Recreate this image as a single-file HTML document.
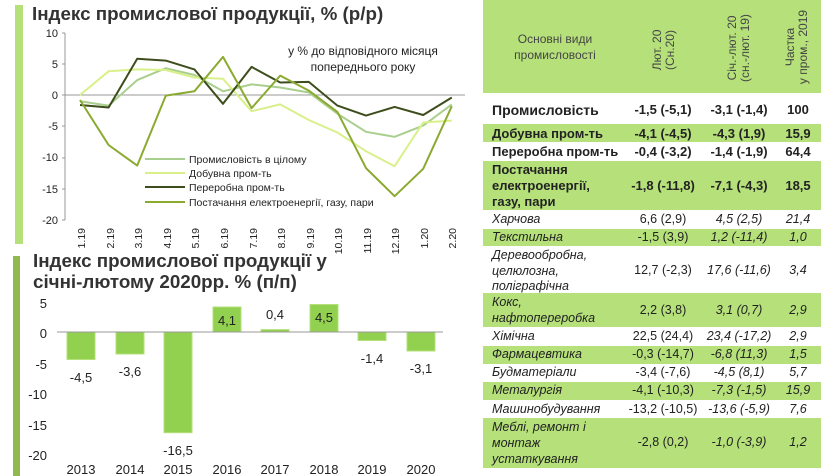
<!DOCTYPE html>
<html><head><meta charset="utf-8"><style>
body{margin:0;width:832px;height:476px;background:#fff;position:relative;overflow:hidden;font-family:"Liberation Sans",sans-serif;}
.t{position:absolute;color:#222;font-size:12.5px;}
.r{position:absolute;left:483px;width:338px;}
.g{background:#b5e07a;}
.c{position:absolute;text-align:center;font-size:12.5px;color:#222;}
.b{font-weight:bold;font-size:13px;}
.i{font-style:italic;}
</style></head><body>
<div style="position:absolute;left:15px;top:5px;width:8px;height:239px;background:#b5e07a"></div>
<div style="position:absolute;left:13px;top:256px;width:7px;height:220px;background:#92b850"></div>
<div style="position:absolute;left:32px;top:3px;font-weight:bold;font-size:18.8px;color:#333">Індекс промислової продукції, % (р/р)</div>
<div style="position:absolute;left:33px;top:250px;font-weight:bold;font-size:18.8px;line-height:21px;color:#333">Індекс промислової продукції у<br>січні-лютому 2020рр. % (п/п)</div>
<div class="r g" style="top:0;height:93px"></div>
<div class="t" style="left:490px;top:31px;width:130px;text-align:center;line-height:16px;color:#444;font-size:12px">Основні види<br>промисловості</div>
<div class="r g" style="top:124px;height:18px"></div>
<div class="r g" style="top:161px;height:49px"></div>
<div class="r g" style="top:229px;height:17px"></div>
<div class="r g" style="top:293px;height:34px"></div>
<div class="r g" style="top:346px;height:18px"></div>
<div class="r g" style="top:382px;height:18px"></div>
<div class="r g" style="top:418px;height:50px"></div>
<svg width="832" height="476" style="position:absolute;left:0;top:0" font-family="Liberation Sans, sans-serif">
<g font-size="11" fill="#222" text-anchor="end">
<text x="58" y="37">10</text><text x="58" y="68">5</text><text x="58" y="99">0</text><text x="58" y="130">-5</text><text x="58" y="161">-10</text><text x="58" y="193">-15</text><text x="58" y="224">-20</text>
</g>
<line x1="65" y1="33" x2="65" y2="220" stroke="#999"/>
<line x1="65" y1="95" x2="465" y2="95" stroke="#999"/>
<g stroke="#999"><line x1="62" y1="33" x2="65" y2="33"/><line x1="62" y1="64" x2="65" y2="64"/><line x1="62" y1="95" x2="65" y2="95"/><line x1="62" y1="126" x2="65" y2="126"/><line x1="62" y1="158" x2="65" y2="158"/><line x1="62" y1="189" x2="65" y2="189"/><line x1="62" y1="220" x2="65" y2="220"/></g>
<g font-size="10.5" fill="#222" text-anchor="end">
<text transform="translate(85,228) rotate(-90)">1.19</text><text transform="translate(114,228) rotate(-90)">2.19</text><text transform="translate(142,228) rotate(-90)">3.19</text><text transform="translate(171,228) rotate(-90)">4.19</text><text transform="translate(199,228) rotate(-90)">5.19</text><text transform="translate(228,228) rotate(-90)">6.19</text><text transform="translate(257,228) rotate(-90)">7.19</text><text transform="translate(285,228) rotate(-90)">8.19</text><text transform="translate(314,228) rotate(-90)">9.19</text><text transform="translate(342,228) rotate(-90)">10.19</text><text transform="translate(371,228) rotate(-90)">11.19</text><text transform="translate(399,228) rotate(-90)">12.19</text><text transform="translate(428,228) rotate(-90)">1.20</text><text transform="translate(456,228) rotate(-90)">2.20</text>
</g>
<g fill="none" stroke-width="2" stroke-linejoin="round">
<polyline stroke="#a9cf8e" points="80,101.2 108.6,105.6 137.2,80.1 165.8,68.2 194.4,75 223,91.3 251.6,84.4 280.2,87.5 308.8,92.5 337.4,113.7 366,131.8 394.6,136.8 423.2,125.6 451.8,104.4"/>
<polyline stroke="#d9f08a" points="80,95 108.6,71.3 137.2,69.4 165.8,70 194.4,77.5 223,78.8 251.6,111.2 280.2,104.4 308.8,120 337.4,132.5 366,151.2 394.6,166.2 423.2,122.5 451.8,120.6"/>
<polyline stroke="#3d4d1c" points="80,105 108.6,107.5 137.2,58.8 165.8,60.6 194.4,69.4 223,103.8 251.6,66.9 280.2,82.5 308.8,81.9 337.4,105.6 366,115.6 394.6,106.9 423.2,115 451.8,97.5"/>
<polyline stroke="#8aaa30" points="80,100 108.6,145 137.2,165.6 165.8,95.6 194.4,91.3 223,56.9 251.6,108.1 280.2,75.6 308.8,90.6 337.4,111.9 366,168.1 394.6,196.2 423.2,168.8 451.8,106.2"/>
</g>
<g stroke-width="2"><line x1="145" y1="159" x2="185" y2="159" stroke="#a9cf8e"/><line x1="145" y1="173" x2="185" y2="173" stroke="#d9f08a"/><line x1="145" y1="187" x2="185" y2="187" stroke="#3d4d1c"/><line x1="145" y1="202" x2="185" y2="202" stroke="#8aaa30"/></g>
<g font-size="10.5" fill="#222"><text x="189" y="163">Промисловість в цілому</text><text x="189" y="177">Добувна пром-ть</text><text x="189" y="191">Переробна пром-ть</text><text x="189" y="206">Постачання електроенергії, газу, пари</text></g>
<g font-size="12" fill="#222" text-anchor="middle"><text x="363" y="55">у % до відповідного місяця</text><text x="363" y="71">попереднього року</text></g>

<g font-size="13" fill="#222" text-anchor="end">
<text x="47" y="308">5</text><text x="47" y="338">0</text><text x="47" y="369">-5</text><text x="47" y="399">-10</text><text x="47" y="430">-15</text><text x="47" y="460">-20</text>
</g>
<g fill="#92d050" stroke="#b5e07a" stroke-width="1">
<rect x="67" y="332" width="28" height="27.5"/><rect x="116" y="332" width="28" height="22"/><rect x="164" y="332" width="28" height="100.7"/><rect x="213" y="307" width="28" height="25"/><rect x="261" y="329.6" width="28" height="2.4"/><rect x="310" y="304.5" width="28" height="27.5"/><rect x="358" y="332" width="28" height="8.5"/><rect x="407" y="332" width="28" height="19"/>
</g>
<line x1="57" y1="332" x2="443" y2="332" stroke="#999"/>
<g font-size="13" fill="#222" text-anchor="middle">
<text x="81" y="382">-4,5</text><text x="130" y="376">-3,6</text><text x="178" y="455">-16,5</text><text x="227" y="325">4,1</text><text x="275" y="319">0,4</text><text x="324" y="322">4,5</text><text x="372" y="363">-1,4</text><text x="421" y="373">-3,1</text>
<text x="81" y="474">2013</text><text x="130" y="474">2014</text><text x="178" y="474">2015</text><text x="227" y="474">2016</text><text x="275" y="474">2017</text><text x="324" y="474">2018</text><text x="372" y="474">2019</text><text x="421" y="474">2020</text>
</g>
<g font-size="12" fill="#444" text-anchor="middle">
<text transform="translate(661,50) rotate(-90)">Лют. 20</text><text transform="translate(674,50) rotate(-90)">(Сн.20)</text>
<text transform="translate(736,48) rotate(-90)">Січ.-лют. 20</text><text transform="translate(749,48) rotate(-90)">(сн.-лют. 19)</text>
<text transform="translate(794,47) rotate(-90)">Частка</text><text transform="translate(807,47) rotate(-90)">у пром., 2019</text>
</g>
</svg>
<div class="t b" style="left:492px;top:102px;font-size:14px">Промисловість</div>
<div class="c b" style="left:620px;width:86px;top:102px">-1,5 (-5,1)</div><div class="c b" style="left:694px;width:90px;top:102px">-3,1 (-1,4)</div><div class="c b" style="left:777px;width:42px;top:102px">100</div>
<div class="t b" style="left:492px;top:126px">Добувна пром-ть</div>
<div class="c b" style="left:620px;width:86px;top:126px">-4,1 (-4,5)</div><div class="c b" style="left:694px;width:90px;top:126px">-4,3 (1,9)</div><div class="c b" style="left:777px;width:42px;top:126px">15,9</div>
<div class="t b" style="left:492px;top:144px">Переробна пром-ть</div>
<div class="c b" style="left:620px;width:86px;top:144px">-0,4 (-3,2)</div><div class="c b" style="left:694px;width:90px;top:144px">-1,4 (-1,9)</div><div class="c b" style="left:777px;width:42px;top:144px">64,4</div>
<div class="t b" style="left:492px;top:162px;line-height:16px">Постачання<br>електроенергії,<br>газу, пари</div>
<div class="c b" style="left:620px;width:86px;top:178px">-1,8 (-11,8)</div><div class="c b" style="left:694px;width:90px;top:178px">-7,1 (-4,3)</div><div class="c b" style="left:777px;width:42px;top:178px">18,5</div>
<div class="t i" style="left:492px;top:212px">Харчова</div>
<div class="c" style="left:620px;width:86px;top:212px">6,6 (2,9)</div><div class="c i" style="left:694px;width:90px;top:212px">4,5 (2,5)</div><div class="c i" style="left:777px;width:42px;top:212px">21,4</div>
<div class="t i" style="left:492px;top:230px">Текстильна</div>
<div class="c" style="left:620px;width:86px;top:230px">-1,5 (3,9)</div><div class="c i" style="left:694px;width:90px;top:230px">1,2 (-11,4)</div><div class="c i" style="left:777px;width:42px;top:230px">1,0</div>
<div class="t i" style="left:492px;top:248px;line-height:15.5px">Деревообробна,<br>целюлозна,<br>поліграфічна</div>
<div class="c" style="left:620px;width:86px;top:263px">12,7 (-2,3)</div><div class="c i" style="left:694px;width:90px;top:263px">17,6 (-11,6)</div><div class="c i" style="left:777px;width:42px;top:263px">3,4</div>
<div class="t i" style="left:492px;top:294px;line-height:16px">Кокс,<br>нафтопереробка</div>
<div class="c" style="left:620px;width:86px;top:303px">2,2 (3,8)</div><div class="c i" style="left:694px;width:90px;top:303px">3,1 (0,7)</div><div class="c i" style="left:777px;width:42px;top:303px">2,9</div>
<div class="t i" style="left:492px;top:329px">Хімічна</div>
<div class="c" style="left:620px;width:86px;top:329px">22,5 (24,4)</div><div class="c i" style="left:694px;width:90px;top:329px">23,4 (-17,2)</div><div class="c i" style="left:777px;width:42px;top:329px">2,9</div>
<div class="t i" style="left:492px;top:347px">Фармацевтика</div>
<div class="c" style="left:620px;width:86px;top:347px">-0,3 (-14,7)</div><div class="c i" style="left:694px;width:90px;top:347px">-6,8 (11,3)</div><div class="c i" style="left:777px;width:42px;top:347px">1,5</div>
<div class="t i" style="left:492px;top:365px">Будматеріали</div>
<div class="c" style="left:620px;width:86px;top:365px">-3,4 (-7,6)</div><div class="c i" style="left:694px;width:90px;top:365px">-4,5 (8,1)</div><div class="c i" style="left:777px;width:42px;top:365px">5,7</div>
<div class="t i" style="left:492px;top:383px">Металургія</div>
<div class="c" style="left:620px;width:86px;top:383px">-4,1 (-10,3)</div><div class="c i" style="left:694px;width:90px;top:383px">-7,3 (-1,5)</div><div class="c i" style="left:777px;width:42px;top:383px">15,9</div>
<div class="t i" style="left:492px;top:402px">Машинобудування</div>
<div class="c" style="left:620px;width:86px;top:402px">-13,2 (-10,5)</div><div class="c i" style="left:694px;width:90px;top:402px">-13,6 (-5,9)</div><div class="c i" style="left:777px;width:42px;top:402px">7,6</div>
<div class="t i" style="left:492px;top:419px;line-height:16px">Меблі, ремонт і<br>монтаж<br>устаткування</div>
<div class="c" style="left:620px;width:86px;top:435px">-2,8 (0,2)</div><div class="c i" style="left:694px;width:90px;top:435px">-1,0 (-3,9)</div><div class="c i" style="left:777px;width:42px;top:435px">1,2</div>
</body></html>
